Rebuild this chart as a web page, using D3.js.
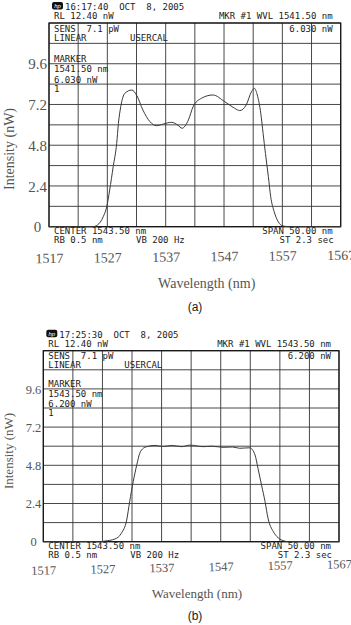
<!DOCTYPE html>
<html>
<head>
<meta charset="utf-8">
<script src="https://cdn.jsdelivr.net/npm/d3@7"></script>
<style>
    body { margin: 0; background: #fff; }
    .osa { font-family: "DejaVu Sans Mono", monospace; font-size: 9px; fill: #222; white-space: pre; }
</style>
</head>
<body>
<script>
// panel (a) trace
var wavelengthA = [1517, 1524.5, 1525.3, 1526.3, 1526.9, 1527.4, 1528.0, 1528.6, 1528.9, 1529.3, 1530.0,
    1531.2, 1532.0, 1533.1, 1534.3, 1535.4, 1536.6, 1538.0, 1539.1, 1539.8, 1540.9, 1541.7, 1543.1,
    1545.1, 1547.1, 1548.8, 1549.7, 1550.8, 1551.7, 1552.2, 1552.7, 1553.3, 1553.7, 1554.1, 1554.6,
    1555.0, 1555.6, 1556.3, 1557.1, 1558.3, 1567];
var intensityA = [0, 0, 0.1, 0.59, 1.18, 2.16, 3.53, 4.9, 6.09, 7.07, 7.86,
    8.05, 7.76, 6.87, 6.19, 5.95, 6.05, 6.15, 5.98, 5.8, 6.29, 7.07, 7.56,
    7.76, 7.37, 6.98, 6.84, 7.17, 7.95, 8.15, 7.76, 6.68, 5.5, 4.32, 2.95,
    1.77, 0.88, 0.29, 0.04, 0, 0];

// panel (b) trace
var wavelengthB = [1517, 1526.5, 1527.4, 1529.1, 1530.2, 1531.1, 1531.6, 1532.2, 1532.8, 1533.3, 1533.9,
    1534.5, 1535.9, 1537.2, 1538.7, 1540.4, 1541.8, 1544.0, 1545.5, 1547.4, 1549.0, 1550.2, 1551.9,
    1552.8, 1553.3, 1553.9, 1554.5, 1555.0, 1555.9, 1556.7, 1557.8, 1558.5, 1567];
var intensityB = [0, 0, 0.04, 0.17, 0.53, 1.36, 2.51, 3.77, 4.82, 5.55, 5.87,
    5.97, 6.05, 5.98, 6.05, 5.97, 6.07, 5.97, 6.0, 5.93, 5.95, 5.87, 5.9,
    5.45, 4.61, 3.56, 2.51, 1.47, 0.63, 0.25, 0.04, 0, 0];

var xTickLabels = [1517, 1527, 1537, 1547, 1557, 1567];
var yTickLabels = [0, 2.4, 4.8, 7.2, 9.6];

var osaTextA = ["16:17:40  OCT  8, 2005", "1541.50 nm", "6.030 nW"];
var osaTextB = ["17:25:30  OCT  8, 2005", "1543.50 nm", "6.200 nW"];

var w = 351;
var h = 625;

var svg = d3.select("body").append("svg").attr("width", w).attr("height", h);

function drawPanel(p, xs, ys, txt) {
    var xScale = d3.scaleLinear().domain([1517, 1567]).range([p.left, p.right]);
    var yScale = d3.scaleLinear().domain([0, 12]).range([p.bottom, p.top]);

    var g = svg.append("g");

    // grid, 10 x 10 divisions like the analyser screen
    g.selectAll(".vgrid")
        .data(d3.range(1517, 1568, 5))
        .enter().append("line")
        .attr("x1", function (d) { return xScale(d); })
        .attr("x2", function (d) { return xScale(d); })
        .attr("y1", p.top).attr("y2", p.bottom)
        .attr("stroke", "#333").attr("stroke-width", 0.9);

    g.selectAll(".hgrid")
        .data(d3.range(0, 12.01, 1.2))
        .enter().append("line")
        .attr("x1", p.left).attr("x2", p.right)
        .attr("y1", function (d) { return yScale(d); })
        .attr("y2", function (d) { return yScale(d); })
        .attr("stroke", "#333").attr("stroke-width", 0.9);

    g.append("rect")
        .attr("x", p.left).attr("y", p.top)
        .attr("width", p.right - p.left).attr("height", p.bottom - p.top)
        .attr("fill", "none").attr("stroke", "#111").attr("stroke-width", 1.2);

    // trace
    var pts = xs.map(function (x, i) { return [x, ys[i]]; });
    var line = d3.line()
        .x(function (d) { return xScale(d[0]); })
        .y(function (d) { return yScale(d[1]); })
        .curve(d3.curveMonotoneX);
    g.append("path")
        .attr("d", line(pts))
        .attr("fill", "none")
        .attr("stroke", "#3a3a3a")
        .attr("stroke-width", 1);

    // analyser screen text
    g.append("rect")
        .attr("x", p.left + 3).attr("y", p.top - 21)
        .attr("width", 11).attr("height", 7.5).attr("rx", 2)
        .attr("fill", "#111");
    g.append("text")
        .attr("x", p.left + 8.5).attr("y", p.top - 15.2)
        .attr("text-anchor", "middle")
        .style("font-family", "Liberation Sans, sans-serif")
        .style("font-size", "6px").style("font-style", "italic")
        .attr("fill", "#fff").text("hp");

    function osa(x, y, s, anchor) {
        g.append("text").attr("class", "osa")
            .attr("x", x).attr("y", y)
            .attr("text-anchor", anchor || "start")
            .text(s);
    }
    var y96 = yScale(9.6), y84 = yScale(8.4);
    osa(p.left + 16, p.top - 13, txt[0]);
    osa(p.left + 5, p.top - 4, "RL 12.40 nW");
    osa(p.right - 8, p.top - 4, "MKR #1 WVL " + txt[1], "end");
    osa(p.left + 5, p.top + 8.5, "SENS  7.1 pW");
    osa(p.right - 8, p.top + 8.5, txt[2], "end");
    osa(p.left + 5, p.top + 17.5, "LINEAR");
    osa(p.left + 81, p.top + 17.5, "USERCAL");
    osa(p.left + 5, y96 - 1.5, "MARKER");
    osa(p.left + 5, y96 + 8.5, txt[1]);
    osa(p.left + 5, y84 - 1.2, txt[2]);
    osa(p.left + 5, y84 + 8, "1");
    osa(p.left + 5, p.bottom + 7.5, "CENTER 1543.50 nm");
    osa(p.right - 8, p.bottom + 7.5, "SPAN 50.00 nm", "end");
    osa(p.left + 5, p.bottom + 16.5, "RB 0.5 nm");
    osa(p.left + 87, p.bottom + 16.5, "VB 200 Hz");
    osa(p.right - 7, p.bottom + 16.5, "ST 2.3 sec", "end");

    // figure axes (serif, grey) laid over the screen shot
    var yAxis = d3.axisLeft(yScale).tickValues(yTickLabels).tickSize(0).tickPadding(0)
        .tickFormat(function (d) { return d === 0 ? "0" : d3.format(".1f")(d); });
    var ya = g.append("g")
        .attr("transform", "translate(" + p.yLabelX + ",0)")
        .call(yAxis);
    ya.select(".domain").remove();
    ya.selectAll("text")
        .attr("text-anchor", "middle")
        .attr("dy", "0.34em")
        .style("font-family", "Liberation Serif, serif")
        .style("font-size", p.yFont + "px")
        .attr("fill", "#555");

    var xAxis = d3.axisBottom(xScale).tickValues(xTickLabels).tickSize(0).tickPadding(0)
        .tickFormat(d3.format("d"));
    var xa = g.append("g")
        .attr("transform", "translate(0," + p.xLabelY + ") rotate(" + p.tilt + "," + ((p.left + p.right) / 2) + ",0)")
        .call(xAxis);
    xa.select(".domain").remove();
    xa.selectAll("text")
        .attr("dy", 0)
        .style("font-family", "Liberation Serif, serif")
        .style("font-size", p.xFont + "px")
        .attr("fill", "#555");

    g.append("text")
        .attr("x", p.titleX).attr("y", p.titleY)
        .attr("text-anchor", "middle")
        .style("font-family", "Liberation Serif, serif")
        .style("font-size", p.titleFont + "px")
        .attr("fill", "#555")
        .text("Wavelength (nm)");

    g.append("text")
        .attr("transform", "translate(" + p.yTitleX + "," + p.yTitleY + ") rotate(-90)")
        .attr("text-anchor", "middle")
        .style("font-family", "Liberation Serif, serif")
        .style("font-size", p.titleFont + "px")
        .attr("fill", "#555")
        .text("Intensity (nW)");

    g.append("text")
        .attr("x", 195).attr("y", p.tagY)
        .attr("text-anchor", "middle")
        .style("font-family", "Liberation Sans, sans-serif")
        .style("font-size", "12px")
        .attr("fill", "#222")
        .text(p.tag);
}

drawPanel({
    left: 49, right: 340.7, top: 23, bottom: 226.7,
    yLabelX: 37.5, yFont: 15, xLabelY: 261.5, xFont: 14, tilt: -0.6,
    titleX: 206.7, titleY: 288, titleFont: 14, yTitleX: 14, yTitleY: 149,
    tag: "(a)", tagY: 311
}, wavelengthA, intensityA, osaTextA);

drawPanel({
    left: 43.3, right: 339, top: 350.7, bottom: 541.7,
    yLabelX: 33.5, yFont: 12.5, xLabelY: 571.5, xFont: 12.5, tilt: -1.2,
    titleX: 197, titleY: 598, titleFont: 13, yTitleX: 13, yTitleY: 451,
    tag: "(b)", tagY: 620
}, wavelengthB, intensityB, osaTextB);
</script>
</body>
</html>
